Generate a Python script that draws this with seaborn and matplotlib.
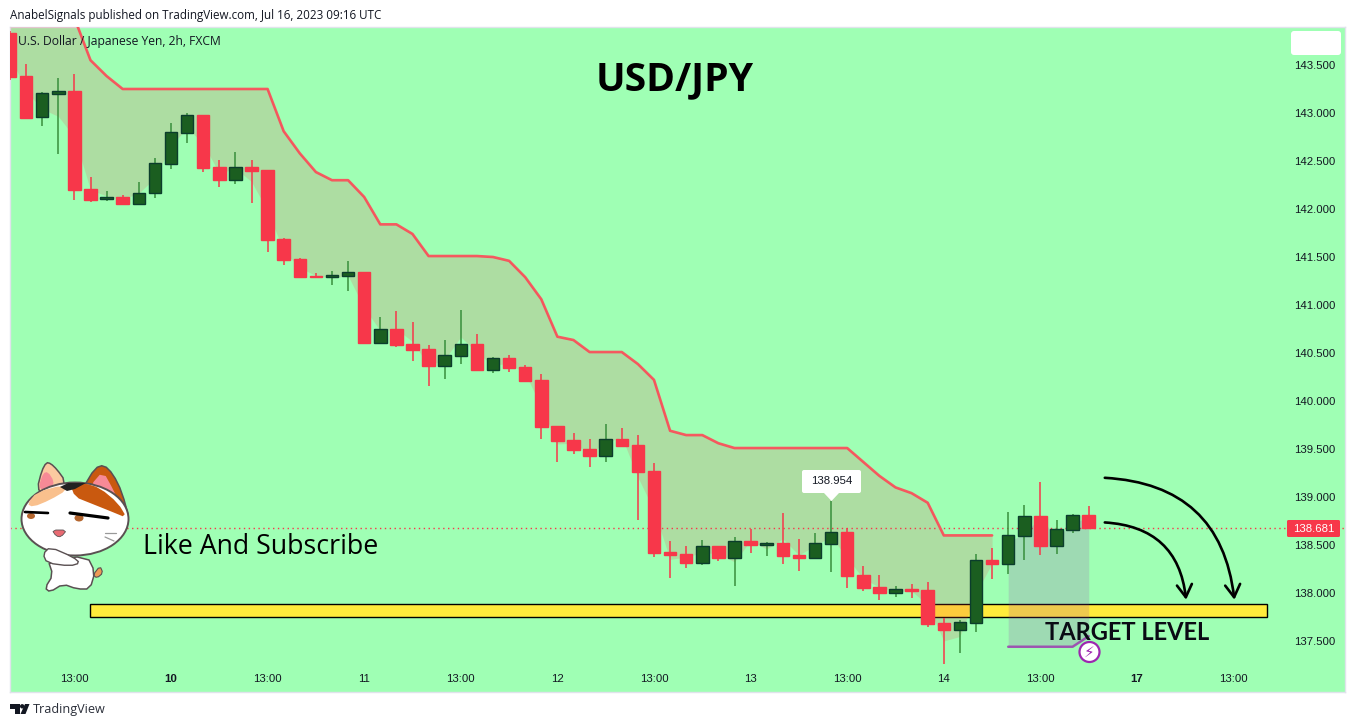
import numpy as np
import pandas as pd
import seaborn as sns
import matplotlib
matplotlib.use("Agg")
import matplotlib.pyplot as plt
from matplotlib.patches import Rectangle, Polygon, Ellipse, Circle, FancyBboxPatch

# USD/JPY 2h candles
opens = [143.83, 143.385, 142.955, 143.20, 143.23, 142.21, 142.10, 142.125, 142.055, 142.17,
         142.47, 142.795, 142.98, 142.44, 142.305, 142.44, 142.41, 141.69, 141.48, 141.30,
         141.29, 141.30, 141.34, 140.60, 140.75, 140.59, 140.54, 140.365, 140.47, 140.59,
         140.32, 140.45, 140.355, 140.22, 139.74, 139.59, 139.50, 139.43, 139.60, 139.54,
         139.27, 138.43, 138.41, 138.31, 138.49, 138.36, 138.54, 138.50, 138.52, 138.40,
         138.365, 138.51, 138.635, 138.19, 138.06, 138.00, 138.04, 138.03, 137.69, 137.615,
         137.69, 138.34, 138.30, 138.59, 138.80, 138.49, 138.66, 138.81]
highs = [143.85, 143.51, 143.22, 143.36, 143.41, 142.33, 142.19, 142.15, 142.28, 142.53,
         142.90, 143.00, 142.98, 142.51, 142.59, 142.51, 142.41, 141.70, 141.49, 141.33,
         141.35, 141.46, 141.34, 140.875, 140.94, 140.82, 140.58, 140.635, 140.95, 140.70,
         140.46, 140.48, 140.375, 140.28, 139.74, 139.67, 139.60, 139.76, 139.72, 139.65,
         139.35, 138.54, 138.49, 138.55, 138.49, 138.58, 138.67, 138.53, 138.83, 138.56,
         138.625, 138.954, 138.68, 138.28, 138.19, 138.07, 138.09, 138.11, 137.74, 137.72,
         138.405, 138.47, 138.84, 138.92, 139.16, 138.76, 138.82, 138.905]
lows = [143.344, 142.94, 142.865, 142.57, 142.09, 142.07, 142.08, 142.05, 142.05, 142.115,
        142.42, 142.69, 142.385, 142.23, 142.26, 142.06, 141.55, 141.42, 141.29, 141.28,
        141.21, 141.15, 140.60, 140.59, 140.56, 140.42, 140.155, 140.23, 140.385, 140.31,
        140.29, 140.30, 140.20, 139.60, 139.365, 139.45, 139.31, 139.365, 139.53, 138.76,
        138.375, 138.16, 138.26, 138.29, 138.33, 138.07, 138.42, 138.385, 138.30, 138.23,
        138.36, 138.22, 138.05, 138.02, 137.93, 137.96, 137.95, 137.645, 137.26, 137.375,
        137.59, 138.15, 138.20, 138.34, 138.40, 138.405, 138.625, 138.681]
closes = [143.375, 142.951, 143.205, 143.23, 142.20, 142.09, 142.125, 142.05, 142.17, 142.48,
          142.80, 142.975, 142.43, 142.30, 142.44, 142.40, 141.68, 141.47, 141.29, 141.29,
          141.31, 141.34, 140.60, 140.75, 140.58, 140.53, 140.365, 140.48, 140.59, 140.32,
          140.45, 140.345, 140.21, 139.73, 139.58, 139.49, 139.43, 139.60, 139.53, 139.26,
          138.42, 138.40, 138.31, 138.49, 138.36, 138.54, 138.50, 138.52, 138.385, 138.365,
          138.52, 138.635, 138.18, 138.05, 138.00, 138.04, 138.02, 137.68, 137.615, 137.70,
          138.34, 138.30, 138.60, 138.80, 138.49, 138.67, 138.81, 138.681]

# red stop line, runs out of the pane on the left, stops at bar 61
band_down = [144.6, 144.5, 144.35, 144.15, 143.99, 143.55, 143.385, 143.25, 143.25, 143.25,
             143.25, 143.25, 143.25, 143.25, 143.25, 143.25, 143.25, 142.81, 142.58, 142.385,
             142.30, 142.30, 142.125, 141.84, 141.84, 141.74, 141.51, 141.51, 141.51, 141.51,
             141.50, 141.46, 141.29, 141.06, 140.67, 140.635, 140.51, 140.51, 140.51, 140.385,
             140.22, 139.69, 139.645, 139.645, 139.56, 139.51, 139.51, 139.51, 139.51, 139.51,
             139.51, 139.51, 139.51, 139.365, 139.22, 139.10, 139.04, 138.94, 138.60, 138.60,
             138.60, 138.60]
# purple line, last 6 bars
band_up = [137.44, 137.44, 137.44, 137.44, 137.44, 137.55]

price_ticks = [137.5, 138.0, 138.5, 139.0, 139.5, 140.0, 140.5, 141.0, 141.5, 142.0, 142.5, 143.0, 143.5]
time_ticks = [4, 10, 16, 22, 28, 34, 40, 46, 52, 58, 64, 70, 76]
time_labels = ["13:00", "10", "13:00", "11", "13:00", "12", "13:00", "13", "13:00", "14", "13:00", "17", "13:00"]
bold_labels = ["10", "17"]
last_price = 138.681
peak_price = 138.954
target_low, target_high = 137.755, 137.885

RED = "#f7374a"
GREEN = "#1b5e20"
GREEN_EDGE = "#0b3d2c"
WICK_GREEN = "#388e3c"
PANE = "#9fffb4"
PURPLE = "#9c27b0"
TEXT = "#131722"


def blob(points, rounds=2):
    # corner cutting so the sticker shapes come out round
    pts = np.array(points, dtype=float)
    for _ in range(rounds):
        nxt = np.roll(pts, -1, axis=0)
        pts = np.column_stack([0.75 * pts + 0.25 * nxt, 0.25 * pts + 0.75 * nxt]).reshape(-1, 2)
    return pts


df = pd.DataFrame({"o": opens, "h": highs, "l": lows, "c": closes})
df["bar"] = df.index
df["up"] = df.c >= df.o
df["body"] = (df.c - df.o).abs()
df["bottom"] = df[["o", "c"]].min(axis=1)
df["mid"] = (df.h + df.l) / 2

sns.set_theme(style="white")
plt.rcParams["font.family"] = ["Liberation Sans", "DejaVu Sans"]

fig = plt.figure(figsize=(13.55, 7.27), dpi=100, facecolor="white")
W, H = 1355, 727
ax = fig.add_axes([10 / W, 1 - 692 / H, (1345 - 10) / W, (692 - 27) / H], facecolor=PANE)

# wicks and bodies
for up, col_w, col_b, col_e in [(True, WICK_GREEN, GREEN, GREEN_EDGE), (False, RED, RED, RED)]:
    part = df[df.up == up]
    ax.vlines(part.bar, part.l, part.h, color=col_w, lw=1.1, zorder=4)
    sns.barplot(data=part, x="bar", y="body", bottom=part["bottom"].values, native_scale=True,
                width=0.78, color=col_b, saturation=1, edgecolor=col_e, linewidth=1.0,
                errorbar=None, zorder=5, ax=ax)

# supertrend bands
down_x = df.bar.values[:len(band_down)]
sns.lineplot(x=down_x, y=band_down, color="#f55b60", lw=1.9, ax=ax, zorder=3, sort=False)
ax.fill_between(down_x, band_down, df.mid.values[:len(band_down)], color=RED, alpha=0.17, lw=0, zorder=3)
up_x = df.bar.values[-len(band_up):]
sns.lineplot(x=up_x, y=band_up, color=PURPLE, alpha=0.75, lw=1.8, ax=ax, zorder=3, sort=False)
ax.fill_between(up_x, band_up, df.mid.values[-len(band_up):], color=PURPLE, alpha=0.17, lw=0, zorder=3)

ax.axhline(last_price, color=RED, lw=1, ls=(0, (1, 2.5)), zorder=2)
ax.add_patch(Rectangle((4.97, target_low), 73.1, target_high - target_low, fc="#ffeb3b", ec="black", lw=1.0, zorder=2))

# the two hand drawn arrows
ax.annotate("", xy=(73.05, 137.93), xytext=(68.0, 138.735),
            arrowprops=dict(arrowstyle="->,head_length=0.75,head_width=0.45", color="black", lw=1.9,
                            connectionstyle="arc3,rad=-0.42", shrinkA=0, shrinkB=0), zorder=6)
ax.annotate("", xy=(76.05, 137.93), xytext=(68.0, 139.2),
            arrowprops=dict(arrowstyle="->,head_length=0.75,head_width=0.45", color="black", lw=1.9,
                            connectionstyle="arc3,rad=-0.42", shrinkA=0, shrinkB=0), zorder=6)

ax.set_xlim(0, (1345 - 10) / 16.1)
ax.set_ylim(143.5 - (692 - 65) / 96, 143.5 + (65 - 27) / 96)
ax.set_xlabel("")
ax.set_ylabel("")
ax.yaxis.tick_right()
ax.set_yticks(price_ticks)
ax.set_yticklabels([f"{p:.3f}" for p in price_ticks], fontsize=8.2, color=TEXT)
ax.set_xticks(time_ticks)
ax.set_xticklabels(time_labels, fontsize=8.2, color=TEXT)
for lab in ax.get_xticklabels():
    if lab.get_text() in bold_labels:
        lab.set_fontweight("bold")
ax.tick_params(axis="y", length=0, pad=-7.2, labelright=True)
ax.tick_params(axis="x", length=0, pad=-13)
for lab in ax.get_yticklabels():
    lab.set_horizontalalignment("right")
for s in ax.spines.values():
    s.set_color("#e0e3eb")
    s.set_linewidth(1)

# overlay in pixels for text and drawings sitting on top of the chart
ov = fig.add_axes([0, 0, 1, 1], facecolor="none")
ov.set_xlim(0, W)
ov.set_ylim(H, 0)
ov.axis("off")

ov.text(10, 15, "AnabelSignals published on TradingView.com, Jul 16, 2023 09:16 UTC", fontsize=8.35,
        family="Open Sans", color=TEXT, va="center")
ov.text(18, 42, "U.S. Dollar / Japanese Yen, 2h, FXCM", fontsize=8.7, family="Open Sans", color=TEXT, va="center")
ov.text(675, 80, "USD/JPY", fontsize=28.2, family="Open Sans", weight="bold", color="black", ha="center", va="center")
ov.text(143, 547, "Like And Subscribe", fontsize=19.3, family="Open Sans", color="black", va="center")
ov.text(1045, 633, "TARGET LEVEL", fontsize=17, family="Lato", weight="bold", color="#0a0a14", va="center")
ov.text(33, 709, "TradingView", fontsize=9.1, family="Open Sans", color="#2a2e39", va="center")

# white scale button, top right
ov.add_patch(FancyBboxPatch((1293, 33), 46, 20, boxstyle="round,pad=2,rounding_size=3", fc="white", ec="none"))

# last price tag
ov.add_patch(FancyBboxPatch((1288, 521), 51, 15, boxstyle="round,pad=1,rounding_size=1.5", fc=RED, ec="none"))
ov.text(1314, 528.5, f"{last_price:.3f}", color="white", fontsize=8.2, ha="center", va="center")

# peak label
ov.add_patch(FancyBboxPatch((804, 472), 55, 19, boxstyle="round,pad=2,rounding_size=2", fc="white", ec="none"))
ov.add_patch(Polygon([(824, 493), (839, 493), (831.5, 501)], fc="white", ec="none"))
ov.text(831.5, 481, f"{peak_price:.3f}", color=TEXT, fontsize=8.2, ha="center", va="center")

# earnings style badge
ov.add_patch(Circle((1089.5, 652), 10, fc="white", ec=PURPLE, lw=1.6))
ov.text(1089.5, 652, "\u26a1", color=PURPLE, fontsize=11, family="DejaVu Sans", ha="center", va="center")

# TradingView logo
ov.add_patch(Polygon([(10, 704), (20, 704), (20, 714), (15, 714), (15, 709), (10, 709)], fc="#131722", ec="none"))
ov.add_patch(Circle((22.2, 706.3), 2.2, fc="#131722", ec="none"))
ov.add_patch(Polygon([(25, 704), (29.5, 704), (25.5, 714), (20.5, 714)], fc="#131722", ec="none"))

# cat sticker
out = "#5a5052"
ov.add_patch(Polygon(blob([(35, 497), (44, 462), (53, 464), (69, 486)]), fc="#fbc9a0", ec=out, lw=1.1, zorder=7))
ov.add_patch(Polygon(blob([(37, 492), (45, 467), (57, 486)]), fc="#f78a96", ec="none", zorder=7))
ov.add_patch(Polygon(blob([(83, 488), (95, 468), (104, 465), (113, 474), (122, 492), (130, 522), (100, 510)], 1),
                     fc="#c9590f", ec=out, lw=1.1, zorder=7))
ov.add_patch(Polygon(blob([(90, 486), (103, 471), (114, 491), (120, 505), (101, 493)], 1), fc="#f78a96", ec="none", zorder=8))
# body, foot and tail
ov.add_patch(Polygon(blob([(93, 575), (100, 566), (103, 573), (97, 578)], 1), fc="#ee9a55", ec=out, lw=0.8, zorder=7))
ov.add_patch(Polygon(blob([(48, 560), (53, 575), (45, 588), (50, 592), (63, 584), (77, 589), (90, 589), (95, 572), (87, 556)], 1),
                     fc="white", ec=out, lw=1.1, zorder=7))
# head
ov.add_patch(Ellipse((75, 519), 107, 73, fc="white", ec=out, lw=1.4, zorder=8))
ov.add_patch(Polygon(blob([(70, 484), (84, 483), (100, 488), (118, 503), (127, 518), (110, 511), (90, 503), (75, 497)], 1),
                     fc="#c9590f", ec="none", zorder=9))
ov.add_patch(Polygon(blob([(27, 504), (37, 492), (63, 485), (67, 490), (50, 500), (33, 507)], 1), fc="#f9c08d", ec="none", zorder=9))
ov.add_patch(Polygon([(60, 487), (68, 483), (86, 483), (75, 489), (67, 491)], fc="#222222", ec="none", zorder=10))
ov.plot([25, 48], [512, 513], color="black", lw=1.9, zorder=10)
ov.plot([70, 108], [513, 518], color="black", lw=2.3, zorder=10)
ov.add_patch(Ellipse((31, 516), 8, 6, fc="#b5662e", ec="none", zorder=9))
ov.add_patch(Ellipse((79, 518), 9, 7, fc="#b5662e", ec="none", zorder=9))
ov.add_patch(Polygon(blob([(52, 530), (67, 530), (61, 537), (56, 536)], 1), fc="#e86a72", ec=out, lw=0.6, zorder=10))
# folded arm
ov.add_patch(Polygon(blob([(43, 554), (50, 547), (73, 557), (80, 563), (70, 566), (47, 563)], 1), fc="white", ec=out, lw=1, zorder=11))
ov.plot([105, 116], [533, 533], color="#999999", lw=0.9, zorder=10)
ov.plot([105, 114], [537, 541], color="#999999", lw=0.9, zorder=10)

fig.savefig("out.png", dpi=100)
